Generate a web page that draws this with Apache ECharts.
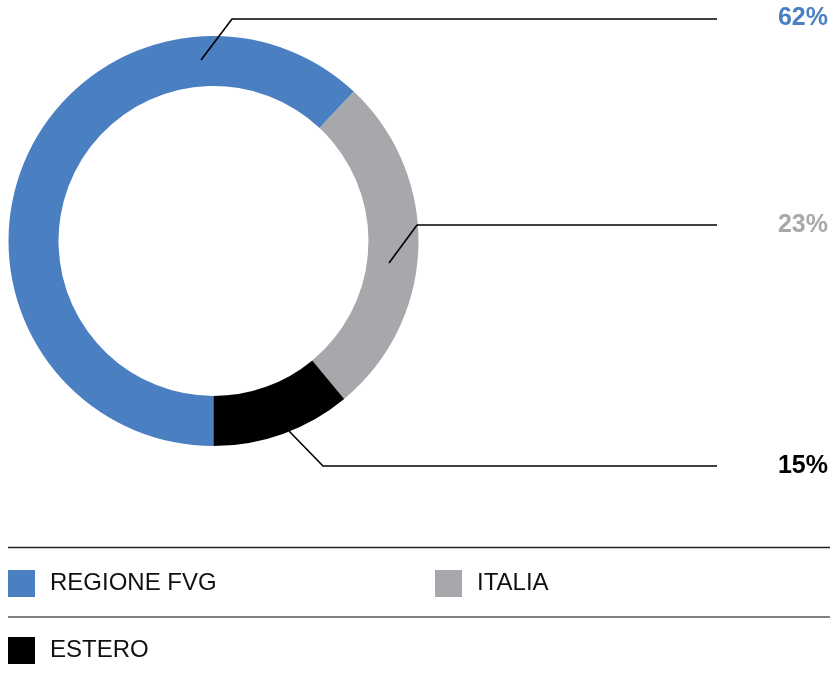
<!DOCTYPE html>
<html>
<head>
<meta charset="utf-8">
<script src="https://cdn.jsdelivr.net/npm/echarts@6/dist/echarts.min.js"></script>
<style>
html,body{margin:0;padding:0;background:#fff;}
#chart{width:830px;height:681px;}
</style>
</head>
<body>
<div id="chart"></div>
<script>
// Data
const categories = ['REGIONE FVG', 'ITALIA', 'ESTERO'];
const sliceShares = [62, 27, 11];          // arc sizes as drawn
const pctLabels = ['62%', '23%', '15%'];    // printed labels
const colors = ['#4a7fc1', '#a7a8ab', '#000000'];

// Label layout (styling/positions)
const labelY = [18, 225, 466];
const lineStart = [[201, 60], [389, 263], [289, 431]];
const lineKnee = [[232, 19], [417, 225], [323, 466]];
const lineEndX = 717;

const chart = echarts.init(document.getElementById('chart'), null, {renderer: 'canvas'});

const pieBase = {
  type: 'pie',
  center: [213.5, 241],
  radius: [155, 205],
  startAngle: -90,
  clockwise: true,
  avoidLabelOverlap: false,
  emphasis: {disabled: true},
  silent: true
};

const option = {
  animation: false,
  color: colors,
  legend: [
    {left: 8, top: 570, padding: 0, data: [categories[0]]},
    {left: 435, top: 570, padding: 0, data: [categories[1]]},
    {left: 8, top: 637, padding: 0, data: [categories[2]]}
  ].map(l => Object.assign(l, {
    icon: 'rect', itemWidth: 27, itemHeight: 27, selectedMode: false,
    textStyle: {fontFamily: 'Liberation Sans', fontSize: 24, color: '#111', padding: [0, 0, 0, 10]}
  })),
  graphic: [
    {type: 'line', shape: {x1: 8, y1: 547.5, x2: 830, y2: 547.5}, style: {stroke: '#222', lineWidth: 1.5}},
    {type: 'line', shape: {x1: 8, y1: 617, x2: 830, y2: 617}, style: {stroke: '#555', lineWidth: 1.5}}
  ],
  series: [
    Object.assign({}, pieBase, {
      z: 2,
      data: categories.map((name, i) => ({
        name: name,
        value: sliceShares[i],
        itemStyle: {color: colors[i]}
      })),
      label: {show: false},
      labelLine: {show: false}
    }),
    Object.assign({}, pieBase, {
      z: 5,
      data: categories.map((name, i) => ({
        name: name,
        value: sliceShares[i],
        itemStyle: {color: 'rgba(0,0,0,0)'},
        label: {color: colors[i]}
      })),
      label: {
        show: true,
        position: 'outside',
        formatter: p => pctLabels[p.dataIndex],
        fontFamily: 'Liberation Sans',
        fontWeight: 'bold',
        fontSize: 25
      },
      labelLine: {show: true, lineStyle: {color: '#000', width: 1.6}},
      labelLayout: function (params) {
        const i = params.dataIndex;
        return {
          x: 828,
          y: labelY[i],
          align: 'right',
          verticalAlign: 'middle',
          labelLinePoints: [lineStart[i], lineKnee[i], [lineEndX, labelY[i] + (i === 0 ? 1 : 0)]]
        };
      }
    })
  ]
};
chart.setOption(option);
</script>
</body>
</html>
